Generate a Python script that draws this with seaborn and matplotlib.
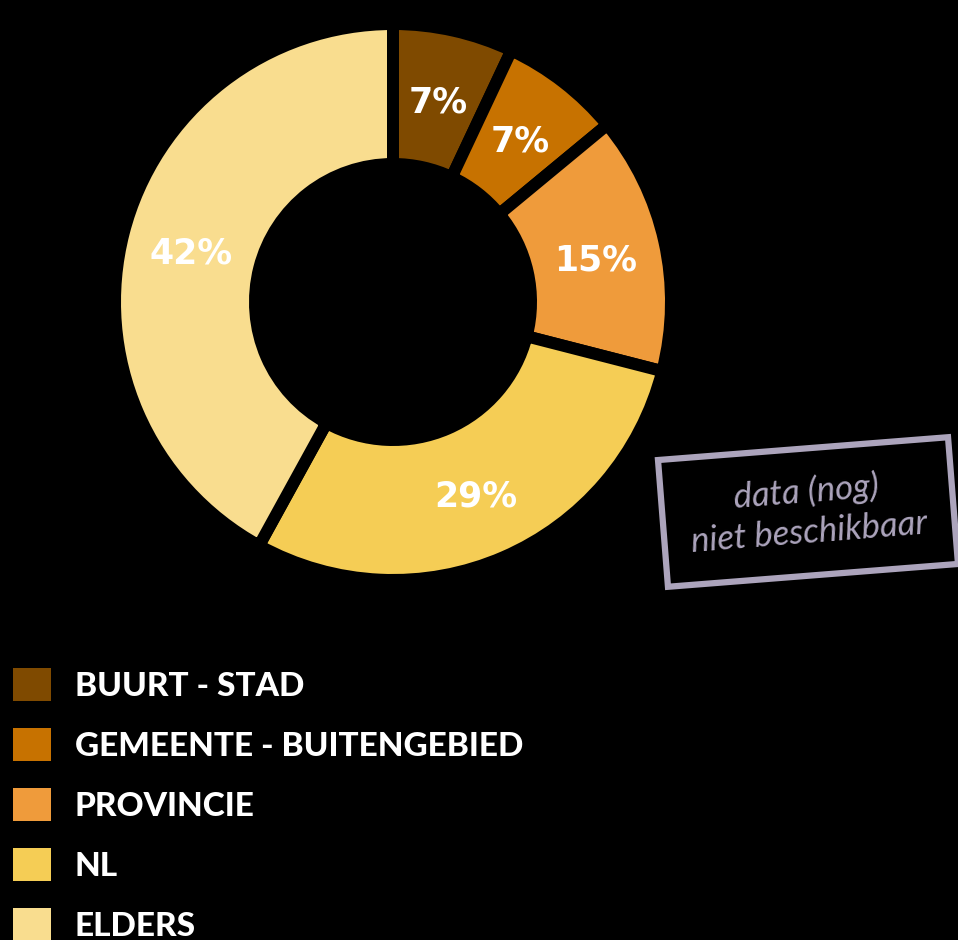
import matplotlib
matplotlib.use("Agg")
import matplotlib.pyplot as plt
import seaborn as sns

# Herkomst: aandeel per gebied
categories = ["BUURT - STAD", "GEMEENTE - BUITENGEBIED", "PROVINCIE", "NL", "ELDERS"]
shares = [7, 7, 15, 29, 42]
colors = ["#7f4a00", "#c77200", "#ef9b3b", "#f5cd55", "#f9dd8f"]
note_text = "data (nog)\nniet beschikbaar"

sns.set_theme(style="white", rc={"figure.facecolor": "black", "axes.facecolor": "black"})
palette = sns.color_palette(colors)

fig = plt.figure(figsize=(9.58, 9.40), dpi=100)
fig.patch.set_facecolor("black")

# Donut: centre (393, 302) px, visible outer radius 272 px
ax = fig.add_axes([121 / 958, (940 - 302 - 272) / 940, 544 / 958, 544 / 940])
ax.set_facecolor("black")
gap_px = 12
gap_pt = gap_px * 72 / 100
R = (272 + gap_px / 2) / 272
ring = (272 + gap_px / 2 - (144 - gap_px / 2)) / 272

wedges, texts = ax.pie(
    shares,
    colors=palette,
    startangle=90,
    counterclock=False,
    radius=R,
    labels=[f"{v}%" for v in shares],
    labeldistance=0.765 / R,
    wedgeprops=dict(width=ring, edgecolor="black", linewidth=gap_pt),
    textprops=dict(color="white", fontsize=25, fontweight="bold",
                   family=["DejaVu Sans"]),
)
for t in texts:
    t.set_horizontalalignment("center")
    t.set_verticalalignment("center_baseline")
ax.set_xlim(-1, 1)
ax.set_ylim(-1, 1)
ax.set_aspect("equal")
ax.axis("off")

# Legend with square swatches
handles = [matplotlib.patches.Patch(facecolor=c, edgecolor="none") for c in palette]
leg = fig.legend(
    handles, categories,
    loc="upper left",
    bbox_to_anchor=(13 / 958, 1 - 668 / 940),
    frameon=False,
    borderpad=0, borderaxespad=0,
    handlelength=1.15, handleheight=1.15,
    handletextpad=0.7,
    labelspacing=0.81,
    prop=dict(family=["Lato", "DejaVu Sans"], weight="black", size=24),
)
for t in leg.get_texts():
    t.set_color("white")

# Notice box, slightly tilted
fig.text(
    808 / 958, 1 - 512 / 940, note_text,
    ha="center", va="center", rotation=4.5,
    color="#aca4bc", fontsize=25, style="italic",
    family=["Lato", "DejaVu Sans"], linespacing=1.3,
    rotation_mode="anchor",
    bbox=dict(boxstyle="square,pad=0.78", facecolor="black",
              edgecolor="#aca4bc", linewidth=4.5),
)

fig.savefig("out.png", dpi=100, facecolor="black")
